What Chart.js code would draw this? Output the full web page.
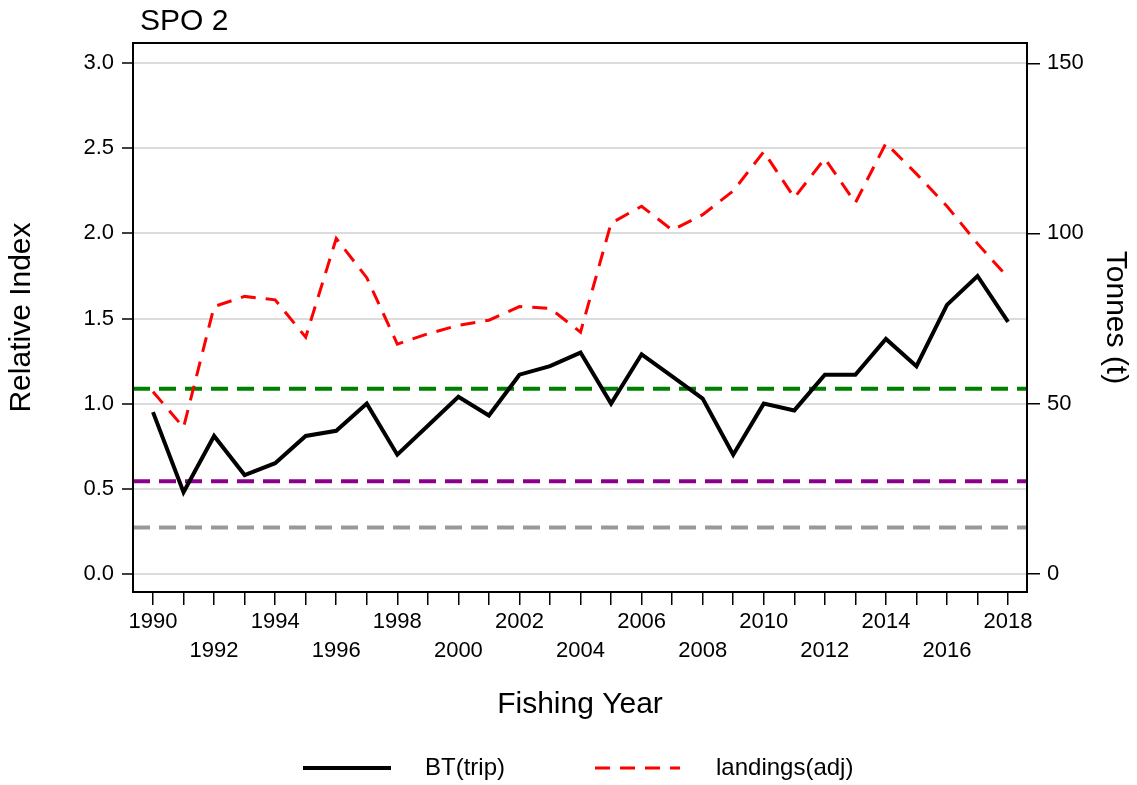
<!DOCTYPE html>
<html>
<head>
<meta charset="utf-8">
<title>SPO 2</title>
<script src="https://cdn.jsdelivr.net/npm/chart.js@4.4.0/dist/chart.umd.min.js"></script>
<style>
  html, body { margin: 0; padding: 0; background: #fff; }
  canvas { display: block; }
</style>
</head>
<body>
<canvas id="chart" width="1137" height="785"></canvas>
<script>
// fishing years and the two series
const years = [1990, 1991, 1992, 1993, 1994, 1995, 1996, 1997, 1998, 1999,
  2000, 2001, 2002, 2003, 2004, 2005, 2006, 2007, 2008, 2009,
  2010, 2011, 2012, 2013, 2014, 2015, 2016, 2017, 2018];
const btTrip = [0.95, 0.48, 0.81, 0.58, 0.65, 0.81, 0.84, 1.00, 0.70, 0.87,
  1.04, 0.93, 1.17, 1.22, 1.30, 1.00, 1.29, 1.16, 1.03, 0.70,
  1.00, 0.96, 1.17, 1.17, 1.38, 1.22, 1.58, 1.75, 1.48];
const landingsAdj = [53.5, 43, 78.5, 81.5, 80.5, 69.5, 98.5, 87, 67.5, 70.5,
  73, 74.5, 78.5, 78, 71, 103, 108, 101, 105.5, 112.5,
  124, 110.5, 122, 109, 126.5, 117.5, 108, 97, 87];

// horizontal reference levels on the index axis
const refLevels = [1.088, 0.544, 0.272];
const refColours = ['#008000', '#8b008b', '#999999'];

// tick values
const indexTicks = [0, 0.5, 1.0, 1.5, 2.0, 2.5, 3.0];
const tonneTicks = [0, 50, 100, 150];

const FAMILY = "'Liberation Sans', Arial, sans-serif";

const refLines = {
  id: 'refLines',
  beforeDatasetsDraw(chart) {
    const { ctx, chartArea: a, scales } = chart;
    ctx.save();
    ctx.lineWidth = 4;
    ctx.setLineDash([17, 9]);
    refLevels.forEach((v, i) => {
      const py = scales.y.getPixelForValue(v);
      ctx.strokeStyle = refColours[i];
      ctx.beginPath();
      ctx.moveTo(a.left, py);
      ctx.lineTo(a.right, py);
      ctx.stroke();
    });
    ctx.restore();
  }
};

// box, panel title and the legend underneath
const decorations = {
  id: 'decorations',
  afterDraw(chart) {
    const { ctx, chartArea: a } = chart;
    ctx.save();
    ctx.strokeStyle = '#000';
    ctx.lineWidth = 2;
    ctx.strokeRect(a.left, a.top, a.right - a.left, a.bottom - a.top);

    ctx.fillStyle = '#000';
    ctx.textBaseline = 'middle';
    ctx.font = '30px ' + FAMILY;
    ctx.fillText('SPO 2', 140, 22);

    const items = [
      { ds: chart.data.datasets[0], x0: 303, x1: 391, tx: 425 },
      { ds: chart.data.datasets[1], x0: 595, x1: 680, tx: 716 }
    ];
    const ly = 768;
    ctx.font = '24px ' + FAMILY;
    items.forEach(it => {
      ctx.strokeStyle = it.ds.borderColor;
      ctx.lineWidth = it.ds.borderWidth;
      ctx.setLineDash(it.ds.borderDash || []);
      ctx.beginPath();
      ctx.moveTo(it.x0, ly);
      ctx.lineTo(it.x1, ly);
      ctx.stroke();
      ctx.setLineDash([]);
      ctx.fillText(it.ds.label, it.tx, ly);
    });
    ctx.restore();
  }
};

const tickFont = { family: FAMILY, size: 22 };
const titleFont = { family: FAMILY, size: 30 };

new Chart(document.getElementById('chart'), {
  type: 'line',
  data: {
    datasets: [
      {
        label: 'BT(trip)',
        data: years.map((yr, i) => ({ x: yr, y: btTrip[i] })),
        borderColor: '#000',
        borderWidth: 4,
        yAxisID: 'y'
      },
      {
        label: 'landings(adj)',
        data: years.map((yr, i) => ({ x: yr, y: landingsAdj[i] })),
        borderColor: '#ff0000',
        borderWidth: 3,
        borderDash: [15, 10],
        yAxisID: 'y2'
      }
    ]
  },
  options: {
    responsive: false,
    animation: false,
    devicePixelRatio: 1,
    layout: { padding: { top: 43, left: 0, right: 0, bottom: 0 } },
    elements: { point: { radius: 0 }, line: { tension: 0 } },
    plugins: { legend: { display: false }, tooltip: { enabled: false } },
    scales: {
      x: {
        type: 'linear',
        min: 1989.345,
        max: 2018.62,
        afterBuildTicks: s => { s.ticks = years.map(v => ({ value: v })); },
        afterFit: s => { s.height = 193; },
        grid: { drawOnChartArea: false, color: '#000', lineWidth: 1.5, tickLength: 13 },
        border: { display: false },
        ticks: {
          font: { family: FAMILY, size: 22, lineHeight: 1.32 },
          color: '#000',
          padding: 2,
          maxRotation: 0,
          autoSkip: false,
          callback: v => {
            const k = v - years[0];
            if (k % 2) return '';
            return k % 4 === 0 ? [String(v), ''] : ['', String(v)];
          }
        },
        title: { display: true, text: 'Fishing Year', color: '#000', font: titleFont, padding: { top: 0, bottom: 62 } }
      },
      y: {
        position: 'left',
        min: -0.107,
        max: 3.119,
        afterBuildTicks: s => { s.ticks = indexTicks.map(v => ({ value: v })); },
        afterFit: s => { s.width = 133; },
        grid: { color: '#dcdcdc', lineWidth: 2, tickColor: '#000', tickWidth: 1.5, tickLength: 11 },
        border: { display: false },
        ticks: { font: tickFont, color: '#000', padding: 8, callback: v => v.toFixed(1) },
        title: { display: true, text: 'Relative Index', color: '#000', font: titleFont, padding: { top: 4, bottom: 0 } }
      },
      y2: {
        position: 'right',
        min: -5.35,
        max: 155.95,
        afterBuildTicks: s => { s.ticks = tonneTicks.map(v => ({ value: v })); },
        afterFit: s => { s.width = 110; },
        grid: { drawOnChartArea: false, color: '#000', lineWidth: 1.5, tickLength: 13 },
        border: { display: false },
        ticks: { font: tickFont, color: '#000', padding: 7 },
        title: { display: true, text: 'Tonnes (t)', color: '#000', font: titleFont, padding: { top: 4, bottom: 0 } }
      }
    }
  },
  plugins: [refLines, decorations]
});
</script>
</body>
</html>
